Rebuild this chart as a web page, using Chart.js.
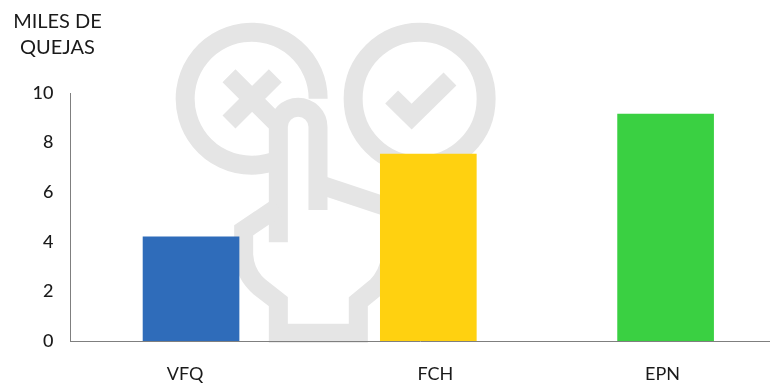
<!DOCTYPE html>
<html>
<head>
<meta charset="utf-8">
<script src="https://cdn.jsdelivr.net/npm/chart.js@4"></script>
<style>
	html, body { margin: 0; padding: 0; background: #fff; overflow: hidden; }
	#wrap { position: relative; width: 770px; height: 385px; font-family: Lato, sans-serif; }
	#watermark { position: absolute; left: 0; top: 0; }
	#chart { position: absolute; left: 0; top: 0; }
	#unit { position: absolute; left: 0; top: 7px; width: 115px; text-align: center; font-size: 20px; line-height: 26px; color: #1a1a1a; }
</style>
</head>
<body>
<div id="wrap">
	<svg id="watermark" width="770" height="385" viewBox="0 0 770 385">
		<g transform="translate(170 10) scale(0.3333)" fill="none" stroke="#e5e5e5" stroke-width="57">
			<path d="M325 449 A199.5 199.5 0 1 1 444.5 266" />
			<circle cx="749" cy="266" r="199.5" />
			<path d="M177 197 L325 345 M316 197 L177 336" stroke-width="55" />
			<path d="M665 261 L725 320 L840 207" stroke-width="55" />
			<path d="M325 697 V351 A59 59 0 0 1 444 351 V600" />
			<path d="M444 522 L690 604" />
			<path d="M325 591 L221 661 V735 Q225 795 270 832 L325 875 V970 H565 V875 L620 830 Q655 795 665 735" />
		</g>
	</svg>
	<canvas id="chart" width="770" height="385"></canvas>
	<div id="unit">MILES DE<br>QUEJAS</div>
</div>
<script>
const categories = ['VFQ', 'FCH', 'EPN'];
const quejas = [4.2, 7.54, 9.15];
const barColors = ['#2f6cba', '#ffd110', '#3ad042'];
const yTicks = [0, 2, 4, 6, 8, 10];
// label centres sit a little off the bar centres in the original
const labelPositions = [-0.025, 1.03, 1.987];

const TEXT_COLOR = '#1a1a1a';
const AXIS_COLOR = '#7f7f7f';

new Chart(document.getElementById('chart').getContext('2d'), {
	type: 'bar',
	data: {
		datasets: [
			{
				label: 'Miles de quejas',
				data: quejas.map((value, index) => ({ x: index, y: value })),
				backgroundColor: barColors,
				barThickness: 96,
			},
		],
	},
	options: {
		responsive: false,
		animation: false,
		layout: { padding: { top: 93, right: 0, bottom: 0, left: 0 } },
		scales: {
			x: {
				type: 'linear',
				offset: false,
				min: -0.508,
				max: 2.44,
				grid: { display: false },
				border: { color: AXIS_COLOR, width: 1 },
				afterBuildTicks(scale) {
					scale.ticks = labelPositions.map((value) => ({ value }));
				},
				afterFit(scale) {
					scale.height = 44;
				},
				ticks: {
					autoSkip: false,
					maxRotation: 0,
					padding: 14,
					color: TEXT_COLOR,
					font: { family: 'Lato', size: 18 },
					callback(value, index) {
						return categories[index];
					},
				},
			},
			y: {
				min: 0,
				max: 10,
				grid: { display: false },
				border: { color: AXIS_COLOR, width: 1 },
				afterBuildTicks(scale) {
					scale.ticks = yTicks.map((value) => ({ value }));
				},
				afterFit(scale) {
					scale.width = 70.5;
				},
				ticks: {
					padding: 9,
					color: TEXT_COLOR,
					font: { family: 'Lato', size: 18, weight: '500' },
				},
			},
		},
		plugins: {
			legend: { display: false },
			tooltip: { enabled: false },
		},
	},
});
</script>
</body>
</html>
